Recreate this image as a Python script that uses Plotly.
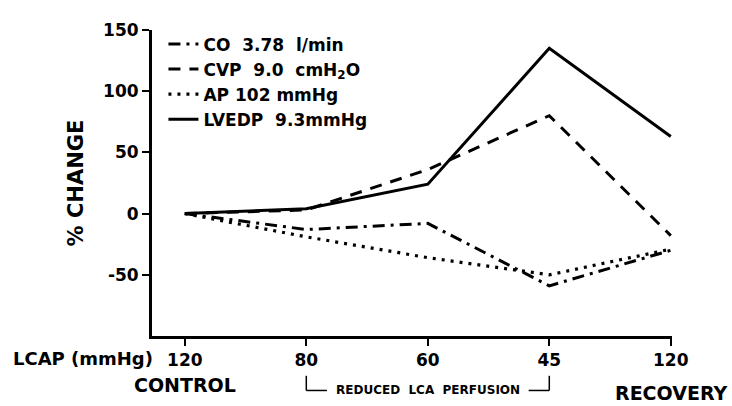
import plotly.graph_objects as go

# LCAP steps along the protocol (positions 0..4 on the x axis)
steps = [0, 1, 2, 3, 4]
lcap_labels = ["120", "80", "60", "45", "120"]

# % change from control for each variable
co_change = [0, -13, -8, -59, -30]
cvp_change = [0, 3, 36, 80, -18]
ap_change = [0, -19, -36, -50, -29]
lvedp_change = [0, 4, 24, 135, 63]

series_names = [
    "CO  3.78  l/min",
    "CVP  9.0  cmH<sub>2</sub>O",
    "AP 102 mmHg",
    "LVEDP  9.3mmHg",
]

y_ticks = [-50, 0, 50, 100, 150]
y_tick_text = ["-50", "0", "50", "100", "150"]

FONT = "DejaVu Sans"
INK = "black"

fig = go.Figure()

styles = [
    dict(dash="12px,6px,3px,6px", width=3),
    dict(dash="12px,9px", width=3),
    dict(dash="3px,6px", width=3.2),
    dict(dash="solid", width=3),
]
for name, vals, st in zip(series_names,
                          [co_change, cvp_change, ap_change, lvedp_change],
                          styles):
    fig.add_trace(go.Scatter(
        x=steps, y=vals, mode="lines", name=name,
        line=dict(color=INK, width=st["width"], dash=st["dash"]),
        hoverinfo="skip",
    ))

fig.update_layout(
    width=732, height=406,
    margin=dict(l=152, r=60, t=30, b=70),
    paper_bgcolor="white", plot_bgcolor="white",
    font=dict(family=FONT, color=INK, size=17, weight="bold"),
    showlegend=True,
    legend=dict(
        x=0.022, y=1.012, xanchor="left", yanchor="top",
        bgcolor="rgba(0,0,0,0)", borderwidth=0,
        font=dict(family=FONT, size=17, color=INK, weight="bold"),
        tracegroupgap=0, itemwidth=30,
    ),
)

fig.update_xaxes(
    range=[-0.27, 4.01],
    tickmode="array", tickvals=steps, ticktext=lcap_labels,
    showline=True, linecolor=INK, linewidth=3,
    ticks="outside", ticklen=7, tickwidth=2, tickcolor=INK,
    showgrid=False, zeroline=False,
    tickfont=dict(family=FONT, size=17, color=INK, weight="bold"),
)
fig.update_yaxes(
    range=[-100, 150],
    tickmode="array", tickvals=y_ticks, ticktext=y_tick_text,
    showline=True, linecolor=INK, linewidth=3,
    ticks="outside", ticklen=7, tickwidth=2, tickcolor=INK,
    showgrid=False, zeroline=False,
    tickfont=dict(family=FONT, size=17, color=INK, weight="bold"),
    title=dict(text="% CHANGE", standoff=14,
               font=dict(family=FONT, size=21, color=INK, weight="bold")),
)

# Axis caption and phase labels under the LCAP ticks
fig.add_annotation(x=-0.27, y=-0.075, xref="x", yref="paper",
                   xanchor="right", yanchor="middle", xshift=3,
                   text="LCAP (mmHg)", showarrow=False,
                   font=dict(family=FONT, size=18, color=INK, weight="bold"))
fig.add_annotation(x=steps[0], y=-0.16, xref="x", yref="paper",
                   xanchor="center", yanchor="middle",
                   text="CONTROL", showarrow=False,
                   font=dict(family=FONT, size=19, color=INK, weight="bold"))
fig.add_annotation(x=steps[4], y=-0.185, xref="x", yref="paper",
                   xanchor="center", yanchor="middle",
                   text="RECOVERY", showarrow=False,
                   font=dict(family=FONT, size=19, color=INK, weight="bold"))

# Bracket marking the reduced-perfusion steps
br_top, br_bot = -0.13, -0.178
fig.add_shape(type="line", xref="x", yref="paper",
              x0=steps[1], x1=steps[1], y0=br_top, y1=br_bot,
              line=dict(color=INK, width=1.5))
fig.add_shape(type="line", xref="x", yref="paper",
              x0=steps[1], x1=steps[1] + 0.17, y0=br_bot, y1=br_bot,
              line=dict(color=INK, width=1.5))
fig.add_shape(type="line", xref="x", yref="paper",
              x0=steps[3], x1=steps[3], y0=br_top, y1=br_bot,
              line=dict(color=INK, width=1.5))
fig.add_shape(type="line", xref="x", yref="paper",
              x0=steps[3] - 0.17, x1=steps[3], y0=br_bot, y1=br_bot,
              line=dict(color=INK, width=1.5))
fig.add_annotation(x=(steps[1] + steps[3]) / 2, y=br_bot, xref="x", yref="paper",
                   xanchor="center", yanchor="middle",
                   text="REDUCED  LCA  PERFUSION", showarrow=False,
                   bgcolor="white",
                   font=dict(family=FONT, size=12, color=INK, weight="bold"))

fig.write_html("out.html")
